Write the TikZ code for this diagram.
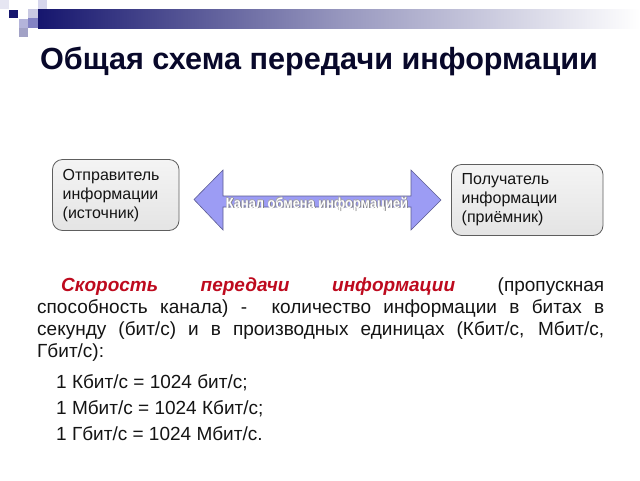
\documentclass[tikz,border=0pt]{standalone}
\usepackage{fontspec}
\setmainfont{Liberation Sans}
\newfontfamily\chanfont[FakeStretch=0.88]{Liberation Sans}
\usetikzlibrary{calc}
\definecolor{navy}{HTML}{16166E}
\definecolor{lavA}{HTML}{E6E6F2}
\definecolor{lavB}{HTML}{C9C9E2}
\definecolor{lavC}{HTML}{B4B4DA}
\definecolor{lavD}{HTML}{A2A2C6}
\definecolor{lavE}{HTML}{D6D6EC}
\definecolor{lavF}{HTML}{8484C4}
\definecolor{titlecol}{HTML}{08082A}
\definecolor{boxline}{HTML}{5E5E5E}
\definecolor{boxtop}{HTML}{F4F4F4}
\definecolor{boxbot}{HTML}{E4E4E4}
\definecolor{arrfill}{HTML}{9C9CF4}
\definecolor{arrline}{HTML}{5C5C92}
\definecolor{redtxt}{HTML}{BE0A1E}
\definecolor{bodytxt}{HTML}{141414}
\newcommand\haloTxt[1]{\leavevmode\rlap{\kern0.8pt\raisebox{-0.8pt}{\color{gray}#1}}\rlap{\kern-0.4pt\raisebox{0.4pt}{\color{gray!70}#1}}{\color{white}#1}}
\tikzset{
  infobox/.style={draw=boxline, line width=0.8pt, rounded corners=10pt,
    top color=boxtop, bottom color=boxbot},
  boxtext/.style={inner sep=0pt, anchor=base west, align=left, text=bodytxt,
    font=\fontsize{16pt}{19pt}\selectfont},
  chanshape/.style={fill=arrfill, draw=arrline, line width=0.6pt},
  bodytext/.style={inner sep=0pt, anchor=base west, text=bodytxt,
    font=\fontsize{19pt}{22.3pt}\selectfont}
}
\begin{document}
\begin{tikzpicture}[x=1pt,y=-1pt]
\useasboundingbox (0,0) rectangle (640,480);
\fill[white] (0,0) rectangle (640,480);
% header decoration
\shade[left color=navy, right color=white, middle color=navy!45!white] (38,9) rectangle (640,28);
\fill[lavA] (0,0) rectangle (9,9);
\fill[navy] (9,10) rectangle (18,18);
\fill[lavB] (28,9) rectangle (38,18);
\fill[lavF] (28,18) rectangle (38,28);
\fill[lavE] (38,0) rectangle (47,9);
\fill[lavC] (19,19) rectangle (28,28);
\fill[lavD] (19,28) rectangle (28,37);
% title
\node[inner sep=0pt, anchor=base, text=titlecol,
  font=\fontsize{30.6pt}{33pt}\selectfont\bfseries] (title) at (319,69)
  {Общая схема передачи информации};
% boxes (multi-line nodes: base anchor = last line)
\path[infobox] (52.5,159.5) rectangle (179,230.5);
\node[boxtext] (src) at (62.5,218) {Отправитель\\информации\\(источник)};
\path[infobox] (451.5,164.5) rectangle (603,235.5);
\node[boxtext] (dst) at (461.5,222.5) {Получатель\\информации\\(приёмник)};
% channel arrow
\draw[chanshape] (194,199.5) -- (223,170) -- (223,196) -- (411,196) -- (411,170)
  -- (441,200) -- (411,230) -- (411,207) -- (223,207) -- (223,230) -- cycle;
\node[inner sep=0pt, anchor=base, font=\chanfont\fontsize{14.6pt}{16pt}\selectfont\bfseries]
  (chan) at (317,208) {\haloTxt{Канал обмена информацией}};
% paragraph (text width node: base anchor = first line)
\node[bodytext, text width=567pt, align=justify] (para) at (37,291)
  {\hspace*{24pt}{\color{redtxt}\bfseries\itshape Скорость передачи информации} (пропускная\linebreak
  способность канала) -\ \ количество информации в битах в\linebreak
  секунду (бит/с) и в производных единицах (Кбит/с, Мбит/с,\linebreak
  Гбит/с):};
\node[bodytext, align=left, font=\fontsize{19pt}{25.8pt}\selectfont] (units) at (56,440)
  {1 Кбит/с = 1024 бит/с;\\1 Мбит/с = 1024 Кбит/с;\\1 Гбит/с = 1024 Мбит/с.};
\end{tikzpicture}
\end{document}
